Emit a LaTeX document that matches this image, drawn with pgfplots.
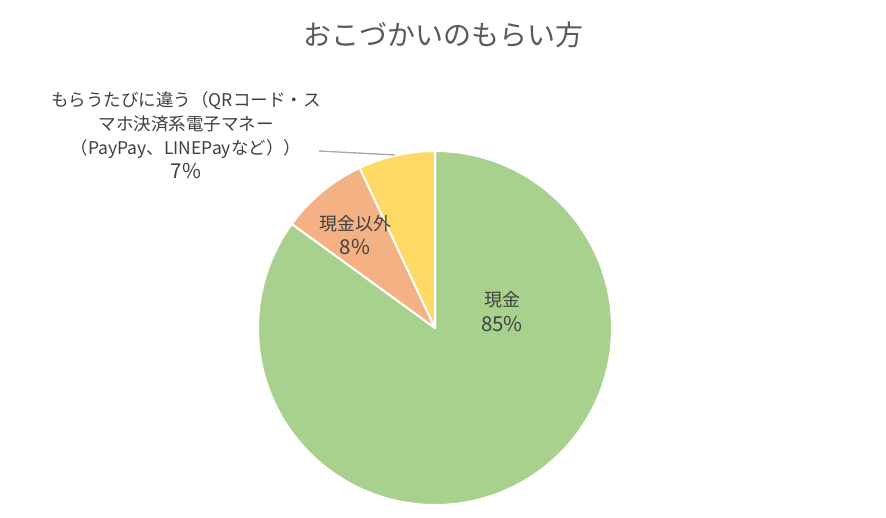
\documentclass[border=0pt]{standalone}
\usepackage{pgfplots}
\pgfplotsset{compat=1.18}
\usepackage{fontspec}
\setmainfont{Noto Sans CJK JP}
\definecolor{cgreen}{HTML}{A9D18E}
\definecolor{corange}{HTML}{F4B183}
\definecolor{cyellow}{HTML}{FFD966}
\definecolor{ctext}{HTML}{404040}
\definecolor{ctitle}{HTML}{595959}
\definecolor{cline}{HTML}{A6A6A6}
\newcommand\pct[1]{{\fontsize{20.5}{24}\selectfont #1}}
\begin{document}
\begin{tikzpicture}
\begin{axis}[width=886pt,height=517pt,scale only axis,
  xmin=0,xmax=886,ymin=0,ymax=517,hide axis,clip=false]
\path (axis cs:0,0) (axis cs:886,517);
% data: 現金 85, 現金以外 8, もらうたびに違う 7
\def\vA{85}\def\vB{8}\def\vC{7}
\def\r{177}\def\cx{435}\def\cy{189}
\pgfmathsetmacro\aA{90}
\pgfmathsetmacro\aB{\aA-\vA*3.6}
\pgfmathsetmacro\aC{\aB-\vB*3.6}
\pgfmathsetmacro\aD{\aC-\vC*3.6}
\filldraw[fill=cgreen,draw=white,line width=2pt,line join=round] (axis cs:\cx,\cy) -- ++(\aA:\r pt) arc[start angle=\aA,end angle=\aB,radius=\r pt] -- cycle;
\filldraw[fill=corange,draw=white,line width=2pt,line join=round] (axis cs:\cx,\cy) -- ++(\aB:\r pt) arc[start angle=\aB,end angle=\aC,radius=\r pt] -- cycle;
\filldraw[fill=cyellow,draw=white,line width=2pt,line join=round] (axis cs:\cx,\cy) -- ++(\aC:\r pt) arc[start angle=\aC,end angle=\aD,radius=\r pt] -- cycle;
\node[ctitle,font=\fontsize{28}{32}\selectfont] at (axis cs:443,482) {おこづかいのもらい方};
\node[ctext,align=center,font=\fontsize{18}{25}\selectfont] at (axis cs:502,205) {現金\\\pct{85\%}};
\node[ctext,align=center,font=\fontsize{18}{24}\selectfont] at (axis cs:355,282) {現金以外\\\pct{8\%}};
\node[ctext,align=center,font=\fontsize{17.5}{24}\selectfont] at (axis cs:186,382) {もらうたびに違う（QRコード・ス\\マホ決済系電子マネー\\（PayPay、LINEPayなど））\\\pct{7\%}};
\draw[cline,line width=1.3pt] (axis cs:319,366) -- (axis cs:395,362);
\end{axis}
\end{tikzpicture}
\end{document}
